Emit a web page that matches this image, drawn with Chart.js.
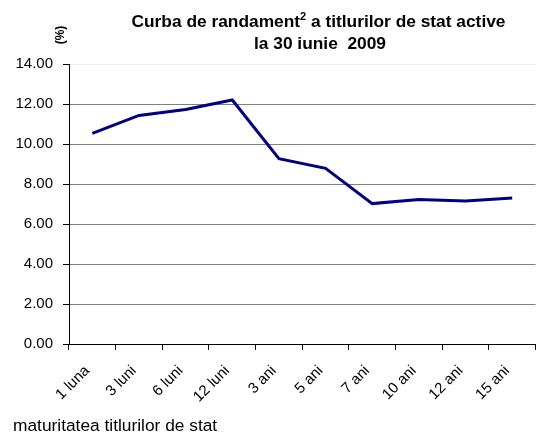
<!DOCTYPE html>
<html>
<head>
<meta charset="utf-8">
<script src="https://cdn.jsdelivr.net/npm/chart.js@4/dist/chart.umd.min.js"></script>
<style>
  html, body { margin: 0; padding: 0; background: #fff; }
  #wrap { width: 537px; height: 436px; position: relative; }
</style>
</head>
<body>
<div id="wrap"><canvas id="c" width="537" height="436"></canvas></div>
<script>
const categories = ["1 luna", "3 luni", "6 luni", "12 luni", "3 ani", "5 ani", "7 ani", "10 ani", "12 ani", "15 ani"];
const yields = [10.53, 11.43, 11.73, 12.2, 9.27, 8.78, 7.02, 7.23, 7.15, 7.3];
const yTicks = [0, 2, 4, 6, 8, 10, 12, 14];
const titleParts = ["Curba de randament", "2", " a titlurilor de stat active"];
const titleLine2 = "la 30 iunie  2009";
const yUnit = "(%)";
const xTitle = "maturitatea titlurilor de stat";

const FONT = "'Liberation Sans', Arial, sans-serif";

const textPlugin = {
  id: 'texts',
  afterDraw(chart) {
    const ctx = chart.ctx;
    ctx.save();
    ctx.fillStyle = '#000';
    ctx.textBaseline = 'alphabetic';
    const big = "bold 17.33px " + FONT, small = "bold 11px " + FONT;
    ctx.font = big;
    const w0 = ctx.measureText(titleParts[0]).width;
    const w2 = ctx.measureText(titleParts[2]).width;
    ctx.font = small;
    const w1 = ctx.measureText(titleParts[1]).width;
    const total = w0 + w1 + w2;
    let x = 318.5 - total / 2;
    ctx.textAlign = 'left';
    ctx.font = big;
    ctx.fillText(titleParts[0], x, 27);
    x += w0;
    ctx.font = small;
    ctx.fillText(titleParts[1], x, 20);
    x += w1;
    ctx.font = big;
    ctx.fillText(titleParts[2], x, 27);
    ctx.textAlign = 'center';
    ctx.fillText(titleLine2, 320, 49);
    ctx.save();
    ctx.translate(64, 35);
    ctx.rotate(-Math.PI / 2);
    ctx.font = "bold 12px " + FONT;
    ctx.textAlign = 'center';
    ctx.fillText(yUnit, 0, 0);
    ctx.restore();
    ctx.textAlign = 'left';
    ctx.font = "17.33px " + FONT;
    ctx.fillText(xTitle, 13, 431);
    ctx.restore();
  }
};

new Chart(document.getElementById('c'), {
  type: 'line',
  data: {
    labels: categories,
    datasets: [{
      data: yields,
      borderColor: '#000080',
      borderWidth: 3,
      pointRadius: 0,
      tension: 0,
      fill: false
    }]
  },
  options: {
    responsive: false,
    animation: false,
    devicePixelRatio: 1,
    layout: { padding: { top: 64, right: 1, left: 0, bottom: 0 } },
    plugins: { legend: { display: false }, title: { display: false }, tooltip: { enabled: false } },
    scales: {
      x: {
        type: 'category',
        offset: true,
        grid: { offset: true, drawOnChartArea: false, drawTicks: true, tickLength: 6, tickColor: '#000' },
        border: { color: '#000', width: 1 },
        ticks: { minRotation: 45, maxRotation: 45, color: '#000', font: { family: FONT, size: 15 }, padding: 12, labelOffset: -5 },
        afterFit(scale) { scale.height = 92; }
      },
      y: {
        min: 0,
        max: 14,
        afterBuildTicks(scale) { scale.ticks = yTicks.map(v => ({ value: v })); },
        ticks: { color: '#000', font: { family: FONT, size: 15 }, padding: 10, callback: v => Number(v).toFixed(2) },
        grid: {
          color: ctx => (ctx.tick && ctx.tick.value === 14) ? '#ececec' : '#808080',
          tickColor: '#000',
          tickLength: 6,
          lineWidth: 1
        },
        border: { color: '#000', width: 1 },
        afterFit(scale) { scale.width = 69; }
      }
    }
  },
  plugins: [textPlugin]
});
</script>
</body>
</html>
